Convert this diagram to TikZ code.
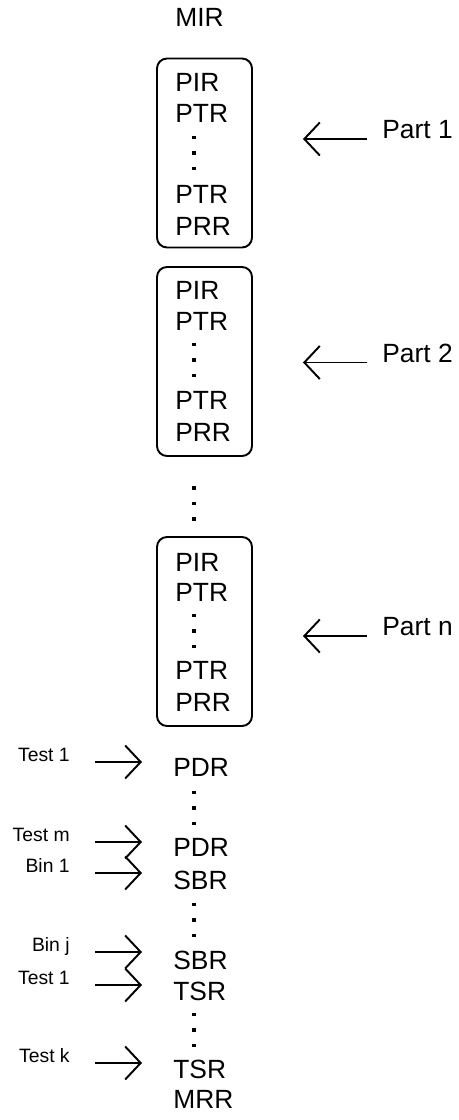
\documentclass[tikz,border=0pt]{standalone}
\usepackage{fontspec}
\setmainfont{Liberation Sans}
\usetikzlibrary{arrows.meta}

\begin{document}
\begin{tikzpicture}[
	reg/.style={anchor=base west,inner sep=0pt,font=\fontsize{15}{18}\selectfont},
	pip/.style={shape=rectangle,fill=black,inner sep=0pt,minimum width=0.08cm,minimum height=0.07cm},
	part/.style={shape=rectangle,draw=black,line width=1.1pt,rounded corners=0.2cm,minimum width=1.9cm,minimum height=3.78cm},
	src/.style={anchor=base east,inner sep=0pt,font=\fontsize{11}{13}\selectfont},
	feed/.style={-{Straight Barb[length=0.31cm,width=0.66cm]},line width=1.1pt}]
	\useasboundingbox (0,0) rectangle (9.18,22.4);
	\node[reg] (mir) at (3.5, 21.86) {MIR};
	% part 1
	\node[part] (box1) at (4.09, 19.34) {};
	\node[reg] (pir1) at (3.5, 20.56) {PIR};
	\node[reg] (ptr1a) at (3.5, 19.94) {PTR};
	\node[reg] (ptr1b) at (3.5, 18.32) {PTR};
	\node[reg] (prr1) at (3.5, 17.68) {PRR};
	\node[reg] (tag1) at (7.64, 19.62) {Part 1};
	% part 2
	\node[part] (box2) at (4.09, 15.17) {};
	\node[reg] (pir2) at (3.5, 16.40) {PIR};
	\node[reg] (ptr2a) at (3.5, 15.79) {PTR};
	\node[reg] (ptr2b) at (3.5, 14.20) {PTR};
	\node[reg] (prr2) at (3.5, 13.57) {PRR};
	\node[reg] (tag2) at (7.64, 15.15) {Part 2};
	% part n
	\node[part] (boxn) at (4.09, 9.77) {};
	\node[reg] (pirn) at (3.5, 10.97) {PIR};
	\node[reg] (ptrna) at (3.5, 10.37) {PTR};
	\node[reg] (ptrnb) at (3.5, 8.80) {PTR};
	\node[reg] (prrn) at (3.5, 8.17) {PRR};
	\node[reg] (tagn) at (7.64, 9.68) {Part n};
	\draw[feed,shorten <=0.3cm,shorten >=1.0cm] (tag1.base west) -- (tag1.base west -| box1.east);
	\draw[feed,shorten <=0.3cm,shorten >=1.0cm] (tag2.base west) -- (tag2.base west -| box2.east);
	\draw[feed,shorten <=0.3cm,shorten >=1.0cm] (tagn.base west) -- (tagn.base west -| boxn.east);
	% records after the parts
	\node[reg] (pdr1) at (3.46, 6.86) {PDR};
	\node[reg] (pdr2) at (3.46, 5.26) {PDR};
	\node[reg] (sbr1) at (3.46, 4.60) {SBR};
	\node[reg] (sbr2) at (3.46, 3.00) {SBR};
	\node[reg] (tsr1) at (3.46, 2.38) {TSR};
	\node[reg] (tsr2) at (3.46, 0.84) {TSR};
	\node[reg] (mrr) at (3.46, 0.24) {MRR};
	% vertical ellipses
	\foreach \g/\y in {1/19.34, 2/15.20, p/12.33, n/9.78, a/6.24, b/4.00, c/1.80}
		\foreach \k/\d in {a/0.31, b/0, c/-0.31}
			\node[pip] (dot\g\k) at (3.87, \y+\d) {};
	\node[src] (test1) at (1.4, 7.16) {Test 1};
	\node[src] (testm) at (1.4, 5.56) {Test m};
	\node[src] (bin1) at (1.4, 4.94) {Bin 1};
	\node[src] (binj) at (1.4, 3.36) {Bin j};
	\node[src] (testa) at (1.4, 2.70) {Test 1};
	\node[src] (testk) at (1.4, 1.14) {Test k};
	\draw[feed,shorten <=0.5cm,shorten >=0.62cm] (test1.base east) -- (test1.base east -| pdr1.west);
	\draw[feed,shorten <=0.5cm,shorten >=0.62cm] (testm.base east) -- (testm.base east -| pdr2.west);
	\draw[feed,shorten <=0.5cm,shorten >=0.62cm] (bin1.base east) -- (bin1.base east -| sbr1.west);
	\draw[feed,shorten <=0.5cm,shorten >=0.62cm] (binj.base east) -- (binj.base east -| sbr2.west);
	\draw[feed,shorten <=0.5cm,shorten >=0.62cm] (testa.base east) -- (testa.base east -| tsr1.west);
	\draw[feed,shorten <=0.5cm,shorten >=0.62cm] (testk.base east) -- (testk.base east -| tsr2.west);
\end{tikzpicture}
\end{document}
